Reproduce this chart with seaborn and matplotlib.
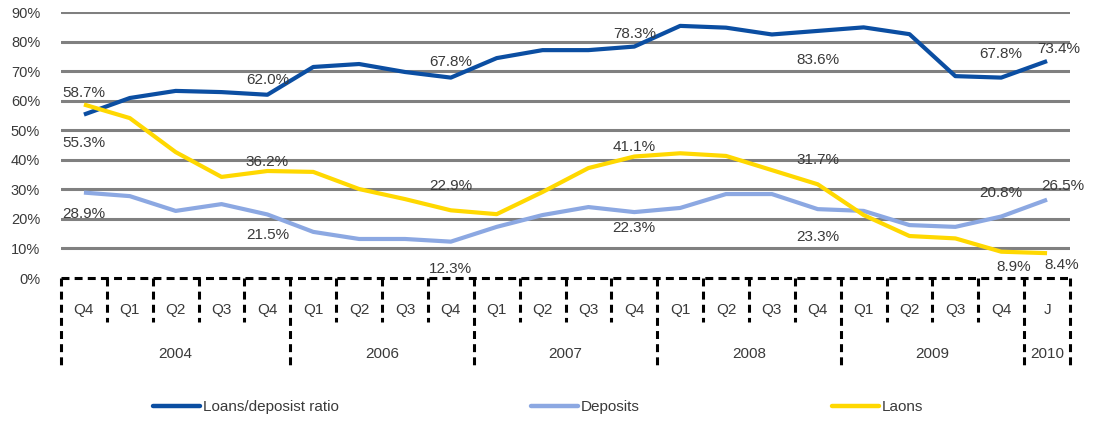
import numpy as np
import pandas as pd
import matplotlib
matplotlib.use("Agg")
import matplotlib.pyplot as plt
import seaborn as sns

# categorie (trimestri) e gruppi (anni)
quarters = ["Q4", "Q1", "Q2", "Q3", "Q4", "Q1", "Q2", "Q3", "Q4", "Q1", "Q2",
            "Q3", "Q4", "Q1", "Q2", "Q3", "Q4", "Q1", "Q2", "Q3", "Q4", "J"]
years = ["2004", "2006", "2007", "2008", "2009", "2010"]
year_sizes = [5, 4, 4, 4, 4, 1]

# serie (%)
ratio = [55.3, 60.9, 63.3, 62.9, 62.0, 71.4, 72.4, 69.7, 67.8, 74.4, 77.1,
         77.1, 78.3, 85.3, 84.7, 82.4, 83.6, 84.8, 82.5, 68.3, 67.8, 73.4]
deposits = [28.9, 27.7, 22.7, 25.0, 21.5, 15.6, 13.2, 13.2, 12.3, 17.3, 21.3,
            24.0, 22.3, 23.7, 28.4, 28.4, 23.3, 22.7, 17.9, 17.3, 20.8, 26.5]
loans = [58.7, 54.1, 42.6, 34.2, 36.2, 35.9, 30.1, 26.7, 22.9, 21.6, 29.1,
         37.2, 41.1, 42.2, 41.3, 36.5, 31.7, 21.3, 14.2, 13.4, 8.9, 8.4]

series_names = ["Loans/deposist ratio", "Deposits", "Laons"]
colors = ["#0B4EA2", "#8CA8E2", "#FFD800"]

# etichette: (indice, dx px, dy px)
ratio_lbl = [(0, 0, -28), (4, 0, 15), (8, 0, 16), (12, 0, 13), (16, 0, -29), (20, 0, 24), (21, 12, 12)]
deposits_lbl = [(0, 0, -21), (4, 0, -21), (8, 0, -27), (12, 0, -16), (16, 0, -28), (20, 0, 24), (21, 16, 14)]
loans_lbl = [(0, 0, 12), (4, 0, 9), (8, 0, 24), (12, 0, 10), (16, 0, 24), (20, 12, -15), (21, 15, -12)]

sns.set_theme(style="white")
plt.rcParams['font.family'] = ['Liberation Sans', 'DejaVu Sans']
TXT = "#3a3a3a"

x = np.arange(len(quarters))
df = pd.DataFrame({
    "x": np.tile(x, 3),
    "value": ratio + deposits + loans,
    "series": np.repeat(series_names, len(quarters)),
})

fig = plt.figure(figsize=(10.93, 4.21), dpi=100)
ax = fig.add_axes([61 / 1093, 143 / 421, 1009 / 1093, 266 / 421])

# griglia orizzontale
for v in range(10, 91, 10):
    ax.axhline(v, color="#808080", lw=2.2, zorder=1)

sns.lineplot(data=df, x="x", y="value", hue="series", hue_order=series_names,
             palette=colors, linewidth=3, ax=ax, legend=False, zorder=3,
             solid_capstyle="butt")

# etichette dati
for vals, lbls in [(ratio, ratio_lbl), (deposits, deposits_lbl), (loans, loans_lbl)]:
    for i, dx, dy in lbls:
        ax.annotate(f"{vals[i]:.1f}%", (x[i], vals[i]), xytext=(dx * 0.72, dy * 0.72),
                    textcoords="offset points", ha="center", va="center",
                    fontsize=11, color=TXT, zorder=4)

ax.set_xlim(-0.5, len(quarters) - 0.5)
ax.set_ylim(0, 90)
ax.set_yticks(range(0, 91, 10))
ax.set_yticklabels([f"{v}%" for v in range(0, 91, 10)], fontsize=10.5, color=TXT)
ax.tick_params(axis="y", length=0, pad=15)
ax.set_xticks([])
ax.set_xlabel("")
ax.set_ylabel("")
for s in ax.spines.values():
    s.set_visible(False)

# asse categorie a due livelli (linee tratteggiate)
tr = ax.get_xaxis_transform()
dash = dict(color="black", lw=2.2, ls=(0, (2.6, 1.7)), clip_on=False, zorder=5)
ax.plot([-0.5, len(quarters) - 0.5], [0, 0], transform=tr, **dash)
bounds = np.concatenate([[0], np.cumsum(year_sizes)])
for k in range(len(quarters) + 1):
    bottom = -0.335 if k in bounds else -0.165
    ax.plot([k - 0.5, k - 0.5], [0, bottom], transform=tr, **dash)
for i, q in enumerate(quarters):
    ax.text(i, -0.12, q, transform=tr, ha="center", va="center", fontsize=11, color=TXT)
for j, yr in enumerate(years):
    c = (bounds[j] + bounds[j + 1] - 1) / 2
    ax.text(c, -0.286, yr, transform=tr, ha="center", va="center", fontsize=11, color=TXT)

handles = [plt.Line2D([], [], color=c, lw=3.2, solid_capstyle="round") for c in colors]
fig.legend(handles, series_names, loc="center left", bbox_to_anchor=(153 / 1093, 14 / 421),
           ncol=3, frameon=False, fontsize=11, handlelength=3.1, handletextpad=0.15,
           columnspacing=12.6, borderpad=0, borderaxespad=0, labelcolor=TXT)

fig.savefig("out.png", dpi=100)
